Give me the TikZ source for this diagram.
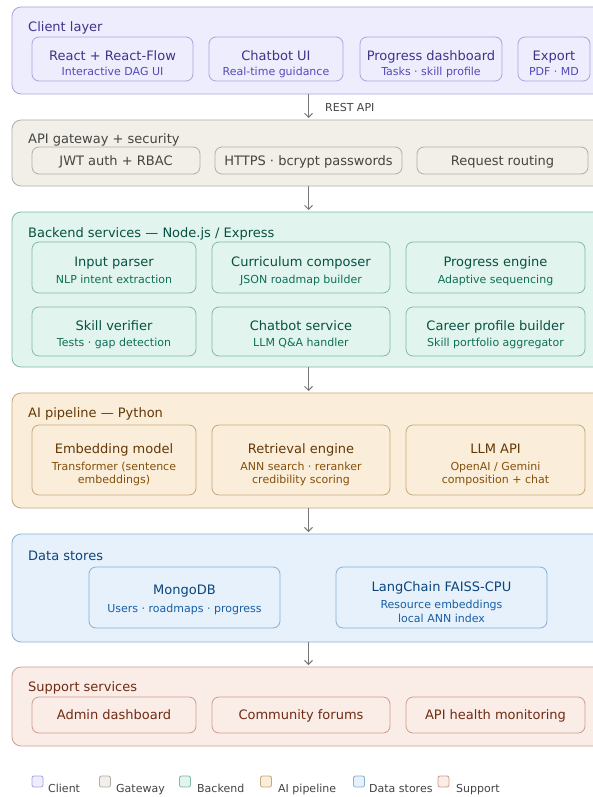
\documentclass[tikz,border=0pt]{standalone}
\usepackage{fontspec}
\setmainfont{DejaVu Sans}
\usetikzlibrary{arrows.meta}
\definecolor{clF}{HTML}{EEEDFE}\definecolor{clS}{HTML}{534AB7}\definecolor{clT}{HTML}{3C3489}
\definecolor{gwF}{HTML}{F1EFE8}\definecolor{gwS}{HTML}{5F5E5A}\definecolor{gwT}{HTML}{444441}
\definecolor{beF}{HTML}{E1F5EE}\definecolor{beS}{HTML}{0F6E56}\definecolor{beT}{HTML}{085041}
\definecolor{aiF}{HTML}{FAEEDA}\definecolor{aiS}{HTML}{854F0B}\definecolor{aiT}{HTML}{633806}
\definecolor{dsF}{HTML}{E6F1FB}\definecolor{dsS}{HTML}{185FA5}\definecolor{dsT}{HTML}{0C447C}
\definecolor{spF}{HTML}{FAECE7}\definecolor{spS}{HTML}{993C1D}\definecolor{spT}{HTML}{712B13}
\colorlet{clB}{clS!45!clF}\colorlet{gwB}{gwS!45!gwF}\colorlet{beB}{beS!45!beF}
\colorlet{aiB}{aiS!45!aiF}\colorlet{dsB}{dsS!45!dsF}\colorlet{spB}{spS!45!spF}
\definecolor{arrowgray}{HTML}{777777}
\definecolor{legtext}{HTML}{444444}
\tikzset{
  cl/.style={fill=clF,draw=clB}, gw/.style={fill=gwF,draw=gwB}, be/.style={fill=beF,draw=beB},
  ai/.style={fill=aiF,draw=aiB}, ds/.style={fill=dsF,draw=dsB}, sp/.style={fill=spF,draw=spB},
  outer/.style={rectangle,rounded corners=9pt,line width=0.8pt,inner sep=0pt,outer sep=0pt},
  inner/.style={rectangle,rounded corners=7pt,line width=0.8pt,inner sep=0pt,outer sep=0pt},
  ttl/.style={font=\fontsize{13}{15}\selectfont,anchor=base,inner sep=0pt},
  subt/.style={font=\fontsize{11}{13}\selectfont,anchor=base,inner sep=0pt},
  lay/.style={font=\fontsize{13}{15}\selectfont,anchor=base west,inner sep=0pt},
  legsq/.style={rectangle,rounded corners=2pt,line width=0.8pt,minimum width=11pt,minimum height=11pt,inner sep=0pt},
  legtx/.style={font=\fontsize{11}{13}\selectfont,anchor=base west,inner sep=0pt,text=legtext},
  flow/.style={draw=arrowgray,line width=0.9pt,-{Straight Barb[length=4pt,width=8pt]},shorten >=2pt},
}
% outer layer: name, style, y1, y2
\newcommand\layer[5]{\node[outer,#2,minimum width=593pt,minimum height={#4-#3}] (#1) at (308.5,{(#3+#4)/2}) {};
  \node[lay,text=#2T] (#1-lab) at (28,#5) {};}
% inner box: name, style, x1, y1, x2, y2, title baseline, title
\newcommand\ibox[8]{\node[inner,#2,minimum width={#5-#3},minimum height={#6-#4}] (#1) at ({(#3+#5)/2},{(#4+#6)/2}) {};
  \node[ttl,text=#2T] (#1-t) at ({(#3+#5)/2},#7) {#8};}
% subtitle: parent, style, baseline, text
\newcommand\isub[4]{\node[subt,text=#2S] (#1-s#3) at (#1.center |- 0,#3) {#4};}
\begin{document}
\begin{tikzpicture}[x=1pt,y=-1pt]
\useasboundingbox (0,0) rectangle (593,797);
\fill[white] (0,0) rectangle (593,797);
\clip (0,0) rectangle (593,797);

% ---------- Client layer
\node[outer,cl,minimum width=593pt,minimum height=87pt] (client) at (308.5,50.5) {};
\node[lay,text=clT] (client-lab) at (28,32) {Client layer};
\ibox{react}{cl}{32}{37}{193}{81}{61}{React + React-Flow}
\isub{react}{cl}{76}{Interactive DAG UI}
\ibox{chatui}{cl}{209}{37}{343}{81}{61}{Chatbot UI}
\isub{chatui}{cl}{76}{Real-time guidance}
\ibox{progdash}{cl}{360}{37}{502}{81}{61}{Progress dashboard}
\isub{progdash}{cl}{76}{Tasks · skill profile}
\ibox{export}{cl}{518}{37}{590}{81}{61}{Export}
\isub{export}{cl}{76}{PDF · MD}

% ---------- Gateway
\node[outer,gw,minimum width=593pt,minimum height=66pt] (gateway) at (308.5,153) {};
\node[lay,text=gwT] (gateway-lab) at (28,143) {API gateway + security};
\ibox{jwt}{gw}{32}{147}{200}{174}{165}{JWT auth + RBAC}
\ibox{https}{gw}{215}{147}{402}{174}{165}{HTTPS · bcrypt passwords}
\ibox{routing}{gw}{417}{147}{588}{174}{165}{Request routing}

% ---------- Backend
\node[outer,be,minimum width=593pt,minimum height=155pt] (backend) at (308.5,289.5) {};
\node[lay,text=beT] (backend-lab) at (28,237) {Backend services — Node.js / Express};
\ibox{parser}{be}{32}{242}{196}{293}{266}{Input parser}
\isub{parser}{be}{283}{NLP intent extraction}
\ibox{composer}{be}{212}{242}{390}{293}{266}{Curriculum composer}
\isub{composer}{be}{283}{JSON roadmap builder}
\ibox{progeng}{be}{406}{242}{585}{293}{266}{Progress engine}
\isub{progeng}{be}{283}{Adaptive sequencing}
\ibox{verifier}{be}{32}{307}{196}{356}{330}{Skill verifier}
\isub{verifier}{be}{346}{Tests · gap detection}
\ibox{chatsvc}{be}{212}{307}{390}{356}{330}{Chatbot service}
\isub{chatsvc}{be}{346}{LLM Q\&A handler}
\ibox{career}{be}{406}{307}{585}{356}{330}{Career profile builder}
\isub{career}{be}{346}{Skill portfolio aggregator}

% ---------- AI pipeline
\node[outer,ai,minimum width=593pt,minimum height=115pt] (aipipe) at (308.5,450.5) {};
\node[lay,text=aiT] (aipipe-lab) at (28,417) {AI pipeline — Python};
\ibox{embed}{ai}{32}{425}{196}{495}{453}{Embedding model}
\isub{embed}{ai}{470}{Transformer (sentence}
\isub{embed}{ai}{483.5}{embeddings)}
\ibox{retrieval}{ai}{212}{425}{390}{495}{453}{Retrieval engine}
\isub{retrieval}{ai}{470}{ANN search · reranker}
\isub{retrieval}{ai}{483.5}{credibility scoring}
\ibox{llm}{ai}{406}{425}{585}{495}{453}{LLM API}
\isub{llm}{ai}{470}{OpenAI / Gemini}
\isub{llm}{ai}{483.5}{composition + chat}

% ---------- Data stores
\node[outer,ds,minimum width=593pt,minimum height=108pt] (datastores) at (308.5,588) {};
\node[lay,text=dsT] (datastores-lab) at (28,560) {Data stores};
\ibox{mongo}{ds}{89}{567}{280}{628}{594}{MongoDB}
\isub{mongo}{ds}{612.5}{Users · roadmaps · progress}
\ibox{faiss}{ds}{336}{567}{547}{628}{591}{LangChain FAISS-CPU}
\isub{faiss}{ds}{608}{Resource embeddings}
\isub{faiss}{ds}{622.5}{local ANN index}

% ---------- Support
\node[outer,sp,minimum width=593pt,minimum height=79pt] (support) at (308.5,706.5) {};
\node[lay,text=spT] (support-lab) at (28,691) {Support services};
\ibox{admin}{sp}{32}{697}{196}{733}{719.5}{Admin dashboard}
\ibox{forums}{sp}{212}{697}{390}{733}{719.5}{Community forums}
\ibox{health}{sp}{406}{697}{585}{733}{719.5}{API health monitoring}

% ---------- Connectors
\draw[flow] (client.south) -- (gateway.north);
\node[font=\fontsize{11}{13}\selectfont,anchor=base west,inner sep=0pt,text=gwT] (restapi) at (325,111.5) {REST API};
\draw[flow] (gateway.south) -- (backend.north);
\draw[flow] (backend.south) -- (aipipe.north);
\draw[flow] (aipipe.south) -- (datastores.north);
\draw[flow] (datastores.south) -- (support.north);

% ---------- Legend
\node[legsq,cl] (lg-cl) at (37.5,781.5) {};
\node[legtx] (lgt-cl) at (48,792) {Client};
\node[legsq,gw] (lg-gw) at (105,781.5) {};
\node[legtx] (lgt-gw) at (116,792) {Gateway};
\node[legsq,be] (lg-be) at (185,781.5) {};
\node[legtx] (lgt-be) at (197,792) {Backend};
\node[legsq,ai] (lg-ai) at (266,781.5) {};
\node[legtx] (lgt-ai) at (278,792) {AI pipeline};
\node[legsq,ds] (lg-ds) at (359,781.5) {};
\node[legtx] (lgt-ds) at (369,792) {Data stores};
\node[legsq,sp] (lg-sp) at (443.5,781.5) {};
\node[legtx] (lgt-sp) at (456,792) {Support};
\end{tikzpicture}
\end{document}
